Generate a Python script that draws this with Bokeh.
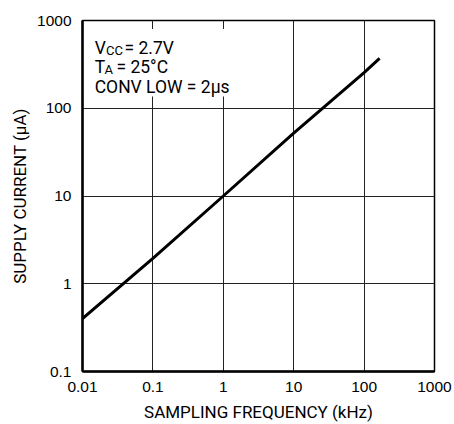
from bokeh.plotting import figure
from bokeh.models import FixedTicker, CustomJSTickFormatter, Label, BoxAnnotation
from bokeh.embed import file_html
from bokeh.resources import INLINE

# Data
freq_khz = [0.01, 0.1, 1, 10, 100, 166]
supply_ua = [0.4, 1.95, 10, 52, 255, 370]
x_ticks = [0.01, 0.1, 1, 10, 100, 1000]
y_ticks = [0.1, 1, 10, 100, 1000]

NARROW = "Roboto"
REG = "Liberation Sans"

p = figure(width=454, height=424, x_axis_type="log", y_axis_type="log",
           x_range=(0.01, 1000), y_range=(0.1, 1000),
           output_backend="svg", toolbar_location=None,
           min_border_left=82, min_border_right=20, min_border_top=20, min_border_bottom=53)
p.background_fill_color = "white"
p.border_fill_color = "white"
p.outline_line_color = "black"
p.outline_line_width = 1.5
p.outline_line_alpha = 1

for ax, ticks in ((p.xaxis[0], x_ticks), (p.yaxis[0], y_ticks)):
    ax.ticker = FixedTicker(ticks=ticks, minor_ticks=[])
    ax.formatter = CustomJSTickFormatter(code="return tick.toString()")
    ax.major_tick_in = 0
    ax.major_tick_out = 0
    ax.minor_tick_in = 0
    ax.minor_tick_out = 0
    ax.axis_line_width = 2.5
    ax.axis_line_color = "black"
    ax.major_label_text_font = REG
    ax.major_label_text_font_size = "15.5px"
    ax.major_label_text_color = "black"
    ax.axis_label_text_font = NARROW
    ax.axis_label_text_font_size = "17px"
    ax.axis_label_text_font_style = "normal"
    ax.axis_label_text_color = "black"

p.xaxis.axis_label = "SAMPLING FREQUENCY (kHz)"
p.yaxis.axis_label = "SUPPLY CURRENT (\u03bcA)"
p.xaxis.major_label_standoff = 10
p.yaxis.major_label_standoff = 11
p.xaxis.axis_label_standoff = 7
p.yaxis.axis_label_standoff = 4

p.grid.grid_line_color = "#222222"
p.grid.grid_line_width = 1
p.grid.grid_line_alpha = 1

p.line(freq_khz, supply_ua, line_color="black", line_width=3)

# white box behind the condition text
box = BoxAnnotation(left=0.0105, right=1.12, top=800, bottom=136,
                    fill_color="white", fill_alpha=1, line_alpha=0)
p.add_layout(box)

def lab(text, dx, dy, size):
    l = Label(x=0.01, y=1000, x_offset=dx, y_offset=-dy, text=text,
              text_font=NARROW, text_font_size=size, text_color="black",
              text_baseline="alphabetic", text_align="left")
    p.add_layout(l)

lab("V", 12.2, 27.3, "17.5px")
lab("CC", 23.5, 29.5, "13px")
lab("= 2.7V", 42, 27.3, "17.5px")
lab("T", 12.2, 46.7, "17.5px")
lab("A", 22, 49.3, "13px")
lab("= 25\u00b0C", 34, 46.7, "17.5px")
lab("CONV LOW = 2\u03bcs", 12.2, 66.7, "17.5px")

open("out.html", "w").write(file_html(p, INLINE))
